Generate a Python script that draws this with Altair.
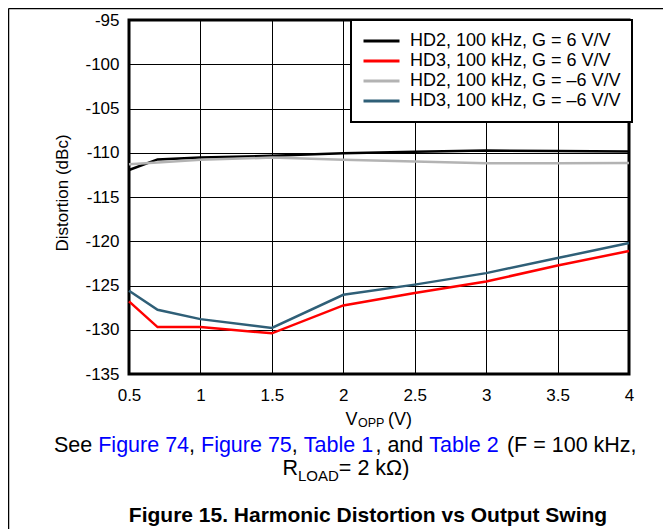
import altair as alt
import pandas as pd

# ---- data ----
vopp = [0.5, 0.7, 1.0, 1.5, 2.0, 2.5, 3.0, 3.5, 4.0]
hd2_g6 = [-111.95, -110.75, -110.55, -110.35, -110.05, -109.9, -109.75, -109.8, -109.85]
hd3_g6 = [-126.8, -129.7, -129.7, -130.4, -127.25, -125.85, -124.55, -122.75, -121.1]
hd2_gm6 = [-111.3, -111.1, -110.8, -110.55, -110.8, -111.0, -111.2, -111.2, -111.15]
hd3_gm6 = [-125.6, -127.75, -128.8, -129.8, -126.05, -124.9, -123.6, -121.9, -120.2]

series_names = [
    "HD2, 100 kHz, G = 6 V/V",
    "HD3, 100 kHz, G = 6 V/V",
    "HD2, 100 kHz, G = \u20136 V/V",
    "HD3, 100 kHz, G = \u20136 V/V",
]
series_colors = ["#000000", "#FF0000", "#B3B3B3", "#2F5F77"]
x_ticks = [0.5, 1.0, 1.5, 2.0, 2.5, 3.0, 3.5, 4.0]
y_ticks = [-135, -130, -125, -120, -115, -110, -105, -100, -95]

rows = []
for name, vals in zip(series_names, [hd2_g6, hd3_g6, hd2_gm6, hd3_gm6]):
    for i, (x, y) in enumerate(zip(vopp, vals)):
        rows.append({"series": name, "vopp": x, "dist": y, "order": i})
df = pd.DataFrame(rows)

FONT = "Liberation Sans"
PLOT_X0, PLOT_Y0 = 129, 20  # page position of plot origin
W, H = 500, 354
SVG_W, SVG_H = 655, 521

# Arial / Liberation Sans advance widths (per 1000 em)
ARIAL = {' ': 278, ',': 278, '(': 333, ')': 333, '=': 584, '.': 278,
         'S': 667, 'e': 556, 'F': 611, 'i': 222, 'g': 556, 'u': 556, 'r': 333,
         'T': 611, 'a': 556, 'b': 556, 'l': 222, 'n': 556, 'd': 556, 'k': 500,
         'H': 722, 'z': 500, 'R': 722, 'L': 556, 'O': 778, 'A': 667, 'D': 722,
         'V': 667, 'P': 667, '\u03a9': 768}
for c in "0123456789":
    ARIAL[c] = 556


def tw(s, size):
    return sum(ARIAL.get(c, 556) for c in s) * size / 1000.0


base = alt.Chart(df)

lines = base.mark_line(strokeWidth=2.5).encode(
    x=alt.X("vopp:Q", scale=alt.Scale(domain=[0.5, 4], nice=False, zero=False),
            axis=alt.Axis(values=x_ticks, format="~g", labelPadding=13, labelFlush=False,
                          title=None)),
    y=alt.Y("dist:Q", scale=alt.Scale(domain=[-135, -95], nice=False, zero=False),
            axis=alt.Axis(values=y_ticks, labelPadding=10, labelFlush=False,
                          labelExpr="datum.value < 0 ? '-' + format(-datum.value, 'd') : format(datum.value, 'd')",
                          title="Distortion (dBc)", titleX=-67, titleY=172.5, titleAngle=270,
                          titleBaseline="middle", titleAlign="center", titleFontSize=17,
                          titleFontWeight="normal", titleFont=FONT, titleColor="black")),
    color=alt.Color("series:N",
                    scale=alt.Scale(domain=series_names, range=series_colors),
                    legend=alt.Legend(title=None, orient="none", legendX=222, legendY=0,
                                      symbolType="stroke", symbolSize=1296, symbolStrokeWidth=3,
                                      labelFontSize=18, labelFont=FONT, labelColor="black",
                                      labelLimit=400, padding=11, rowPadding=0, clipHeight=20,
                                      labelOffset=9, strokeColor="black", fillColor="white")),
    order="order:Q",
)

one = alt.Data(values=[{}])
layers = [lines]


def text_layer(txt, x_page, y_page, size, color="black", weight="normal", align="left"):
    return alt.Chart(one).mark_text(
        text=txt, align=align, baseline="alphabetic", fontSize=size, font=FONT,
        color=color, fontWeight=weight
    ).encode(x=alt.value(x_page - PLOT_X0), y=alt.value(y_page - PLOT_Y0))


# x-axis title: V_OPP (V)
layers.append(text_layer("V", 345.5, 425, 18))
layers.append(text_layer("OPP", 358, 427, 12.5))
layers.append(text_layer("(V)", 388, 425, 18))

# caption line 1 (blue links)
BLUE = "#0000FF"
cap_size = 21.5
segments = [("See ", "black"), ("Figure 74", BLUE), (", ", "black"), ("Figure 75", BLUE),
            (", ", "black"), ("Table 1", BLUE), (", and ", "black"), ("Table 2", BLUE),
            (" (F = 100 kHz,", "black")]
cursor = 54.0
for s, col in segments:
    stripped = s.strip()
    lead = len(s) - len(s.lstrip())
    if stripped:
        layers.append(text_layer(stripped, cursor + tw(" " * lead, cap_size), 451.7, cap_size, col))
    cursor += tw(s, cap_size)

# caption line 2: R_LOAD= 2 kΩ)
layers.append(text_layer("R", 282.5, 475, cap_size))
layers.append(text_layer("LOAD", 282.5 + tw("R", cap_size), 481, 15))
layers.append(text_layer("= 2 k\u03a9)", 282.5 + tw("R", cap_size) + tw("LOAD", 15), 475, cap_size))

# figure title
layers.append(text_layer("Figure 15. Harmonic Distortion vs Output Swing", 368, 521.7, 21,
                         weight="bold", align="center"))

# page frame lines (top and left)
layers.append(alt.Chart(one).mark_rule(color="black", strokeWidth=1.5).encode(
    x=alt.value(8.5 - PLOT_X0), x2=alt.value(8 + SVG_W - PLOT_X0), y=alt.value(8.5 - PLOT_Y0)))
layers.append(alt.Chart(one).mark_rule(color="black", strokeWidth=1.5).encode(
    x=alt.value(8.5 - PLOT_X0), y=alt.value(8.5 - PLOT_Y0), y2=alt.value(8 + SVG_H - PLOT_Y0)))

chart = alt.layer(*layers).properties(
    width=W, height=H,
    autosize=alt.AutoSizeParams(type="none"),
    padding={"left": PLOT_X0 - 8, "top": PLOT_Y0 - 8, "right": SVG_W - (PLOT_X0 - 8) - W,
             "bottom": SVG_H - (PLOT_Y0 - 8) - H},
    background="white",
).configure_view(
    stroke="black", strokeWidth=3, fill="white"
).configure_axis(
    grid=True, gridColor="black", gridWidth=1, gridOpacity=1,
    domain=False, ticks=False,
    labelFont=FONT, labelFontSize=17, labelColor="black",
).configure_legend(
    strokeWidth=2
).configure_text(font=FONT)

chart.save("out.html", embed_options={"renderer": "svg", "actions": False})
